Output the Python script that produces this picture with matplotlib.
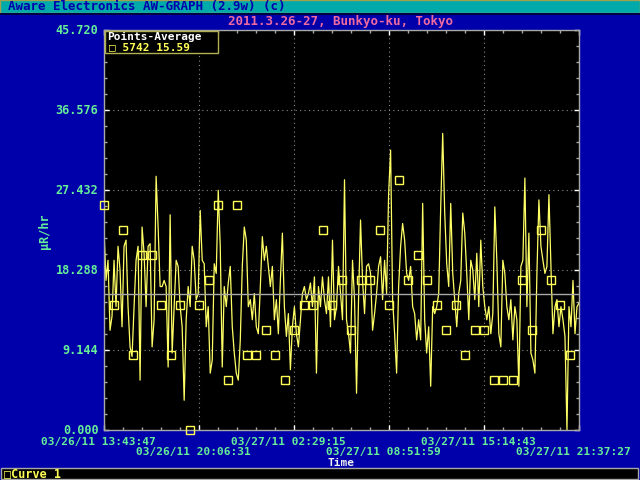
import numpy as np
import matplotlib
matplotlib.use('Agg')
import matplotlib.pyplot as plt
from matplotlib.patches import Rectangle
from matplotlib import transforms
from matplotlib.ticker import MultipleLocator

# ---------------- data ----------------
total_seconds = 114820  # 03/26/11 13:43:47 -> 03/27/11 21:37:27
tick_labels = ["03/26/11 13:43:47", "03/26/11 20:06:31", "03/27/11 02:29:15",
               "03/27/11 08:51:59", "03/27/11 15:14:43", "03/27/11 21:37:27"]
y_ticks = [0.000, 9.144, 18.288, 27.432, 36.576, 45.720]
n_points = 5742
average = 15.59

line_vals = [
    22.9, 17.1, 19.4, 11.4, 13.0, 19.4, 14.1, 21.0, 18.3, 11.8,
    21.0, 21.7, 14.1, 9.5, 8.4, 14.1, 19.4, 21.0, 5.7, 23.2,
    20.2, 14.1, 21.0, 21.3, 9.5, 12.6, 29.0, 23.2, 16.4, 16.4,
    17.1, 16.4, 7.2, 24.6, 8.8, 14.1, 19.4, 18.7, 14.1,
    11.8, 3.4, 12.6, 16.4, 14.1, 21.0, 19.4, 14.9, 15.6, 25.1,
    19.4, 19.0, 11.8, 14.1, 6.5, 8.0, 19.0, 17.9, 27.4, 21.0,
    7.2, 16.4, 14.1, 16.8, 18.7, 11.8, 8.8, 6.5, 5.7, 10.3,
    18.7, 23.2, 21.7, 14.1, 14.9, 12.6, 15.6, 11.8, 11.0, 16.4,
    22.1, 19.4, 21.0, 18.7, 16.4, 18.7, 12.6, 14.9, 11.0, 17.1,
    22.5, 14.1, 10.7, 13.3, 6.9, 11.8, 14.1, 11.0, 9.5, 12.6,
    15.6, 16.4, 14.9, 15.6, 16.8, 14.1, 17.5, 6.5, 16.4, 14.1,
    17.5, 14.9, 13.3, 17.5, 11.8, 21.7, 12.6, 14.1, 18.7, 15.6,
    12.6, 28.6, 12.6, 11.0, 8.8, 19.4, 14.9, 4.2, 14.9, 24.0,
    17.1, 13.3, 18.7, 19.0, 17.9, 11.4, 13.3, 15.6, 18.7, 19.8,
    14.9, 19.4, 15.6, 26.9, 32.0, 14.9, 11.0, 6.5, 16.4, 21.0,
    23.6, 21.7, 17.9, 17.1, 18.7, 14.1, 13.3, 10.3, 12.6, 10.3,
    25.9, 12.6, 8.8, 11.8, 5.0, 14.1, 13.3, 14.1, 15.6, 25.5,
    33.9, 24.8, 19.0, 16.4, 25.9, 17.9, 14.9, 11.8, 15.6, 17.1,
    24.8, 22.5, 17.9, 12.6, 19.4, 18.3, 14.9, 20.2, 14.1, 21.7,
    16.4, 14.1, 12.6, 14.1, 11.0, 13.3, 25.5, 19.4, 11.0, 9.5,
    19.4, 17.9, 14.1, 12.6, 14.9, 10.3, 14.1, 12.6, 5.0, 18.7,
    19.4, 28.8, 14.1, 22.5, 8.8, 8.0, 6.5, 17.9, 26.3, 21.0,
    19.4, 17.9, 18.7, 26.9, 18.7, 11.0, 14.1, 14.9, 11.8, 14.1,
    12.6, 10.7, 0.0, 14.1, 11.8, 17.1, 11.0, 14.1, 14.5,
]

marker_vals = [
    25.72, 14.29, 22.86, 8.57, 20.00, 20.00, 14.29, 8.57, 14.29, 0.00,
    14.29, 17.15, 25.72, 5.72, 25.72, 8.57, 8.57, 11.43, 8.57, 5.72,
    11.43, 14.29, 14.29, 22.86, 14.29, 17.15, 11.43, 17.15, 17.15, 22.86,
    14.29, 28.58, 17.15, 20.00, 17.15, 14.29, 11.43, 14.29, 8.57, 11.43,
    11.43, 5.72, 5.72, 5.72, 17.15, 11.43, 22.86, 17.15, 14.29, 8.57,
]

# ---------------- style ----------------
plt.rcParams['font.family'] = ['DejaVu Sans Mono']
plt.rcParams['font.weight'] = 'bold'
BLUE = '#0000AA'
GREEN = '#66EE99'
YEL = '#FFFF55'
GRAY = '#A8A8A8'
FS = 8.5
FSX = 8

fig = plt.figure(figsize=(6.4, 4.8), dpi=100)
fig.patch.set_facecolor(BLUE)


def fx(px):
    return px / 640.0


def fy(py):
    return 1 - py / 480.0


# title bar
fig.patches.append(Rectangle((fx(0), fy(13)), 1, 13 / 480, transform=fig.transFigure,
                             facecolor='#00AAAA', edgecolor='#A0A050', lw=1))
fig.patches.append(Rectangle((fx(0), fy(15)), 1, 2 / 480, transform=fig.transFigure,
                             facecolor='#000044', edgecolor='none'))
fig.text(fx(8), fy(10), "Aware Electronics AW-GRAPH (2.9w) (c)", color=BLUE,
         fontsize=9, va='baseline', ha='left')
fig.text(fx(340), fy(24.5), "2011.3.26-27, Bunkyo-ku, Tokyo", color='#EE6AA0',
         fontsize=9, va='baseline', ha='center')

# bottom bar
fig.patches.append(Rectangle((fx(1), fy(479)), 637 / 640, 11 / 480, transform=fig.transFigure,
                             facecolor='black', edgecolor=GRAY, lw=1))
fig.text(fx(4), fy(477), "\u25a1Curve 1", color=YEL, fontsize=FS, va='baseline', ha='left')

# main axes
ax = fig.add_axes([fx(104), fy(430), 475 / 640, 400 / 480])
ax.set_facecolor('black')

t_line = np.linspace(0, total_seconds, len(line_vals))
ax.plot(t_line, line_vals, color='#FFFF66', lw=0.9)
t_mark = np.linspace(0, total_seconds, len(marker_vals) + 1)[:-1]
ax.plot(t_mark, marker_vals, ls='none', marker='s', ms=5.5, mfc='none', mec=YEL,
        mew=1.0, clip_on=False, zorder=5)
ax.axhline(average, color=GRAY, lw=1)

ax.set_xlim(0, total_seconds)
ax.set_ylim(0, 45.72)
xt = np.linspace(0, total_seconds, len(tick_labels))
ax.set_xticks(xt)
ax.set_xticklabels([])
ax.xaxis.set_minor_locator(MultipleLocator(total_seconds / 25))
ax.set_yticks(y_ticks)
ax.set_yticklabels([f'{v:.3f}' for v in y_ticks])
ax.yaxis.set_minor_locator(MultipleLocator(9.144 / 5))
ax.tick_params(which='both', direction='in', top=True, right=True)
ax.tick_params(which='major', length=3.5, width=1, color='white',
               labelcolor=GREEN, labelsize=FS, pad=4)
ax.tick_params(which='minor', length=2.5, width=1, color=GRAY)
for lab in ax.get_yticklabels():
    lab.set_verticalalignment('center')
ax.grid(which='major', color='#888888', ls=(0, (1, 3)), lw=0.8)
for sp in ax.spines.values():
    sp.set_color(GRAY)
    sp.set_linewidth(1)

# staggered x tick labels
trans = transforms.blended_transform_factory(ax.transData, fig.transFigure)
off = transforms.ScaledTranslation(-63 / 100, 0, fig.dpi_scale_trans)
for i, (t, lab) in enumerate(zip(xt, tick_labels)):
    ybase = 444.5 if i % 2 == 0 else 455
    ax.text(t, fy(ybase), lab, transform=trans + off, color=GREEN, fontsize=FSX,
            va='baseline', ha='left', clip_on=False)

fig.text(fx(341), fy(465.8), "Time", color='#F0F0F0', fontsize=FSX, va='baseline', ha='center')
fig.text(fx(45), fy(231), "\u00b5R/hr", color=GREEN, fontsize=FS, va='center', ha='center',
         rotation=90)

# legend box
fig.patches.append(Rectangle((fx(105), fy(53)), 113 / 640, 22 / 480, transform=fig.transFigure,
                             facecolor='black', edgecolor='#B0B050', lw=1, zorder=10))
fig.text(fx(107), fy(39.5), "Points-Average", color='white', fontsize=FSX, va='baseline',
         ha='left', zorder=11)
fig.text(fx(109), fy(50.5), "\u25a1 5742 15.59", color=YEL, fontsize=FSX, va='baseline',
         ha='left', zorder=11)

fig.savefig('out.png', dpi=100, facecolor=fig.get_facecolor())
